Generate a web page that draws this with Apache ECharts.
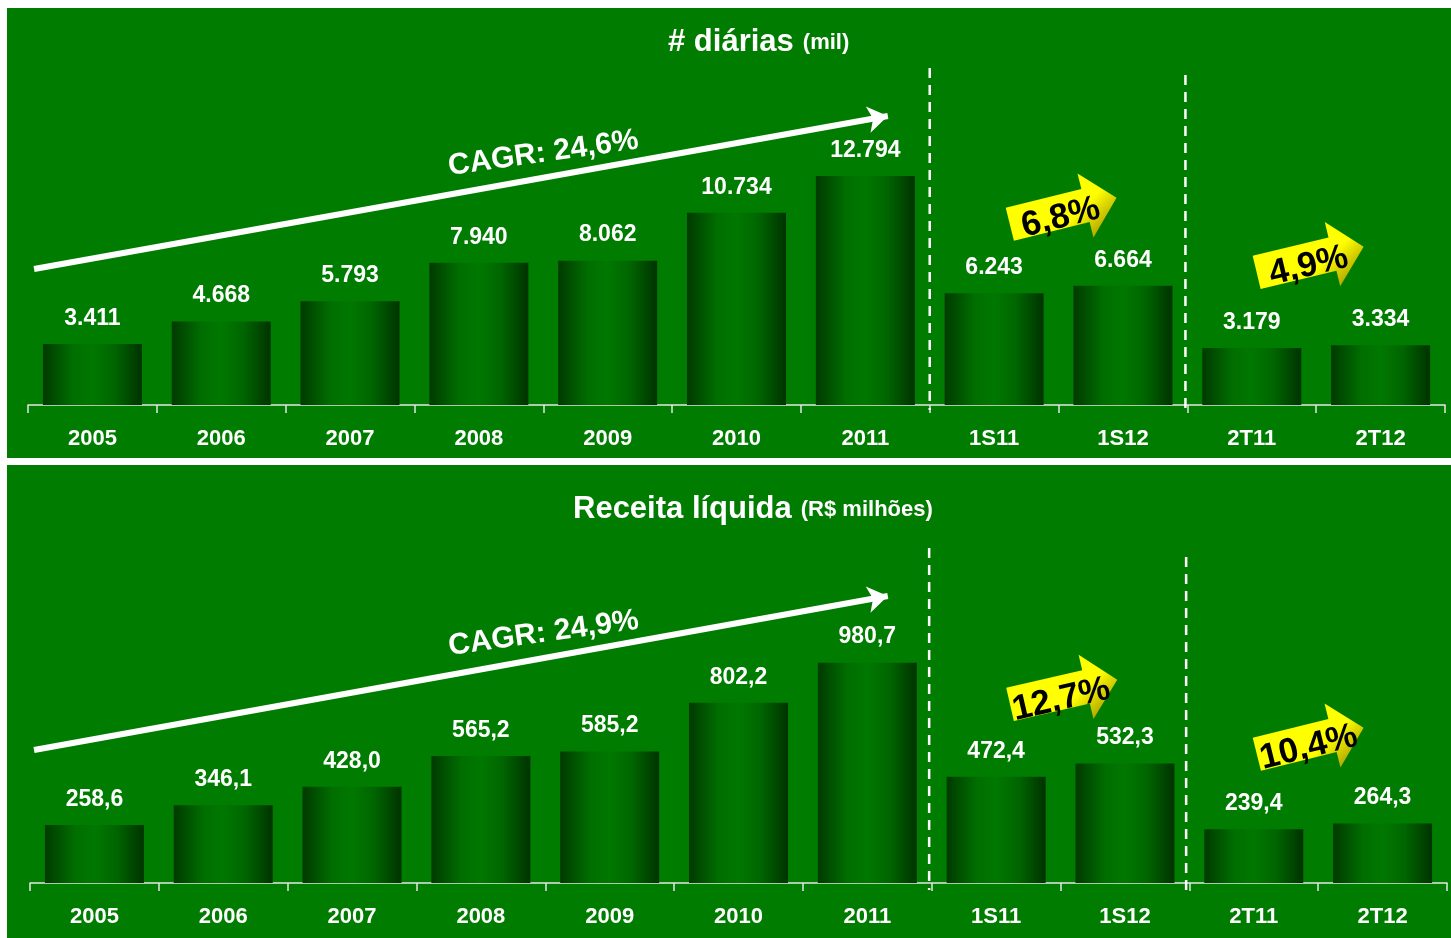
<!DOCTYPE html>
<html>
<head>
<meta charset="utf-8">
<script src="https://cdn.jsdelivr.net/npm/echarts@6/dist/echarts.min.js"></script>
<style>
  html, body { margin: 0; padding: 0; background: #fff; }
  .panel { position: absolute; left: 7px; width: 1444px; }
  #top { top: 8px; height: 450px; }
  #bottom { top: 465px; height: 473px; }
</style>
</head>
<body>
<div id="top" class="panel"></div>
<div id="bottom" class="panel"></div>
<script>
// dados
const categories = ['2005', '2006', '2007', '2008', '2009', '2010', '2011', '1S11', '1S12', '2T11', '2T12'];
const diarias = [3411, 4668, 5793, 7940, 8062, 10734, 12794, 6243, 6664, 3179, 3334];
const receita = [258.6, 346.1, 428.0, 565.2, 585.2, 802.2, 980.7, 472.4, 532.3, 239.4, 264.3];
const cagrText = ['CAGR: 24,6%', 'CAGR: 24,9%'];
const growthDiarias = ['6,8%', '4,9%'];
const growthReceita = ['12,7%', '10,4%'];

const FONT = "'Liberation Sans', Arial, sans-serif";
const BG = '#007d00';
const ARROW_PATH = 'path://M0 16 L78 16 L78 0 L110 33 L78 66 L78 50 L0 50 Z';

const fmtDot = v => String(v).replace(/\B(?=(\d{3})+(?!\d))/g, '.');
const fmtComma = v => v.toFixed(1).replace('.', ',');

function buildChart(dom, cfg) {
  const chart = echarts.init(dom);

  const barColor = new echarts.graphic.LinearGradient(0, 0, 1, 0, [
    { offset: 0, color: '#003a00' },
    { offset: 0.3, color: '#006e00' },
    { offset: 0.5, color: '#007800' },
    { offset: 0.72, color: '#006600' },
    { offset: 1, color: '#003300' }
  ]);
  const yellow = new echarts.graphic.LinearGradient(0, 0, 1, 1, [
    { offset: 0, color: '#ffff00' },
    { offset: 0.6, color: '#ffff00' },
    { offset: 1, color: '#8a7a00' }
  ]);

  // linhas tracejadas (separadores) + seta do CAGR
  const dividerSeries = cfg.dividers.map((d, i) => ({
    type: 'line', xAxisIndex: 1, yAxisIndex: 0, silent: true, clip: false, z: 3,
    symbol: 'none',
    lineStyle: { color: '#fff', width: 2.5, type: [10, 7] },
    data: [[d[0], d[1]], [d[0], d[2]]],
    markLine: i === 0 ? {
      silent: true, symbol: ['none', 'arrow'], symbolSize: 20,
      lineStyle: { color: '#fff', width: 6, type: 'solid', opacity: 1 },
      itemStyle: { color: '#fff' },
      label: { show: false },
      data: [[{ coord: cfg.cagr.from }, { coord: cfg.cagr.to }]]
    } : undefined
  }));

  chart.setOption({
    backgroundColor: BG,
    animation: false,
    textStyle: { fontFamily: FONT },
    title: {
      text: '{a|' + cfg.title + '} {b|' + cfg.unit + '}',
      left: cfg.titleLeft, top: cfg.titleTop,
      textStyle: {
        rich: {
          a: { fontSize: 31, fontWeight: 'bold', color: '#fff', fontFamily: FONT },
          b: { fontSize: 22, fontWeight: 'bold', color: '#fff', fontFamily: FONT, padding: [0, 0, 0, 4] }
        }
      }
    },
    grid: Object.assign({ containLabel: false, outerBoundsMode: 'none' }, cfg.grid),
    xAxis: [
      {
        type: 'category', data: categories,
        axisLine: { lineStyle: { color: '#e6e6e6', width: 1.5 } },
        axisTick: { show: true, length: 8, lineStyle: { color: '#e6e6e6', width: 1.5 } },
        axisLabel: { margin: 23, color: '#fff', fontSize: 22, fontWeight: 'bold', fontFamily: FONT }
      },
      { type: 'value', min: 0, max: 11, show: false }
    ],
    yAxis: { type: 'value', min: 0, max: cfg.yMax, show: false },
    series: [
      {
        type: 'bar', data: cfg.values, barWidth: 99,
        itemStyle: { color: barColor },
        label: {
          show: true, position: 'top', distance: 14,
          color: '#fff', fontSize: 23, fontWeight: 'bold', fontFamily: FONT,
          formatter: p => cfg.fmt(p.value)
        }
      },
      ...dividerSeries,
      {
        type: 'scatter', xAxisIndex: 1, yAxisIndex: 0, silent: true, z: 4,
        symbolSize: 1, itemStyle: { color: 'rgba(0,0,0,0)', opacity: 1 },
        label: {
          show: true, position: 'inside', rotate: 8, opacity: 1,
          color: '#fff', fontSize: 30, fontWeight: 'bold', fontFamily: FONT,
          formatter: p => p.name
        },
        data: [{ name: cfg.cagr.text, value: cfg.cagr.at }]
      },
      {
        type: 'scatter', xAxisIndex: 1, yAxisIndex: 0, silent: true, z: 5,
        symbol: ARROW_PATH, symbolSize: [110, 66], symbolKeepAspect: false,
        itemStyle: { color: yellow, opacity: 1 },
        label: {
          show: true, position: 'inside', opacity: 1,
          color: '#000', fontSize: 35, fontWeight: 'bold', fontFamily: FONT,
          formatter: p => p.name
        },
        data: cfg.growth.map(g => ({
          name: g.text, value: g.at, symbolRotate: g.rot,
          label: { rotate: g.rot, offset: g.off }
        }))
      }
    ]
  });
  window.addEventListener('resize', () => chart.resize());
  return chart;
}

buildChart(document.getElementById('top'), {
  values: diarias, fmt: fmtDot,
  title: '# diárias', unit: '(mil)', titleLeft: 656, titleTop: 14,
  grid: { left: 21, right: 6, top: 21, height: 376 }, yMax: 21000,
  dividers: [[7, 18820, -279], [8.985, 18429, -391]],
  cagr: { from: [0.047, 7595], to: [6.675, 16139], text: cagrText[0], at: [4.0, 14045] },
  growth: [
    { text: growthDiarias[0], at: [8.036, 10834], rot: 14, off: [-4, 6] },
    { text: growthDiarias[1], at: [9.953, 8125], rot: 13.5, off: [-3, 6] }
  ]
});

buildChart(document.getElementById('bottom'), {
  values: receita, fmt: fmtComma,
  title: 'Receita líquida', unit: '(R$ milhões)', titleLeft: 561, titleTop: 24,
  grid: { left: 23, right: 4, top: 36, height: 382 }, yMax: 1700,
  dividers: [[6.98, 1491, -31], [8.975, 1451, -53]],
  cagr: { from: [0.031, 592], to: [6.659, 1277], text: cagrText[1], at: [3.987, 1110] },
  growth: [
    { text: growthReceita[0], at: [8.024, 850], rot: 13, off: [-4, 7] },
    { text: growthReceita[1], at: [9.938, 632], rot: 14, off: [-3, 6] }
  ]
});
</script>
</body>
</html>
